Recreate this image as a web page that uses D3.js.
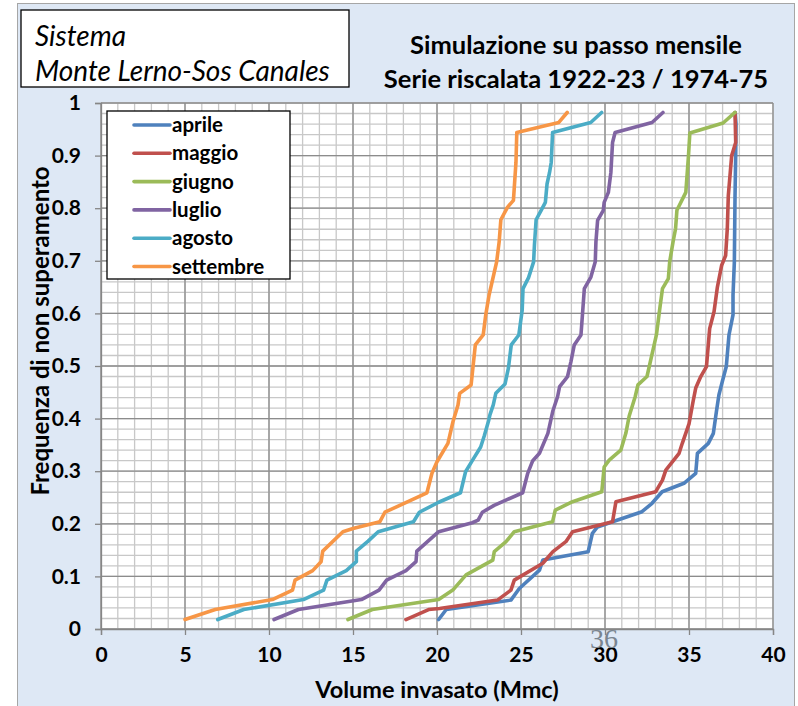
<!DOCTYPE html>
<html>
<head>
<meta charset="utf-8">
<script src="https://cdn.jsdelivr.net/npm/d3@7"></script>
<style>
  html, body { margin: 0; padding: 0; background: #ffffff; }
  svg { display: block; }
</style>
</head>
<body>
<svg id="chart" width="798" height="706"></svg>
<script>
// ---------------- DATA ----------------
const months = ["aprile", "maggio", "giugno", "luglio", "agosto", "settembre"];
const colors = ["#4F81BD", "#C0504D", "#9BBB59", "#8064A2", "#4BACC6", "#F79646"];

const xTickLabels = ["0", "5", "10", "15", "20", "25", "30", "35", "40"];
const yTickLabels = ["0", "0.1", "0.2", "0.3", "0.4", "0.5", "0.6", "0.7", "0.8", "0.9", "1"];

// [volume (Mmc), frequency of non-exceedance]
const aprile = [[20.1,0.018],[20.55,0.037],[24.4,0.055],[24.9,0.077],[26.1,0.112],[26.3,0.131],[29.0,0.147],[29.25,0.182],[29.55,0.194],[30.45,0.204],[32.2,0.223],[32.8,0.239],[33.4,0.261],[34.7,0.277],[35.4,0.296],[35.5,0.334],[36.15,0.353],[36.45,0.372],[36.63,0.413],[36.78,0.445],[36.98,0.47],[37.22,0.499],[37.38,0.559],[37.62,0.597],[37.62,0.635],[37.7,0.698],[37.74,0.824],[37.78,0.9],[37.8,0.96],[37.75,0.982]];
const maggio = [[18.15,0.018],[19.5,0.037],[20.15,0.039],[23.6,0.055],[24.4,0.074],[24.6,0.093],[26.3,0.125],[26.9,0.147],[27.67,0.166],[28.07,0.185],[30.45,0.204],[30.65,0.242],[33.02,0.261],[33.42,0.283],[33.62,0.302],[34.41,0.334],[34.6,0.353],[35.0,0.39],[35.24,0.432],[35.4,0.458],[35.7,0.48],[36.04,0.499],[36.23,0.571],[36.49,0.603],[36.69,0.65],[36.94,0.691],[37.18,0.71],[37.28,0.761],[37.34,0.824],[37.54,0.9],[37.78,0.925],[37.74,0.982]];
const giugno = [[14.7,0.018],[16.15,0.037],[20.1,0.056],[20.94,0.074],[21.73,0.103],[23.32,0.131],[23.41,0.147],[24.11,0.166],[24.6,0.185],[26.88,0.204],[27.04,0.226],[28.07,0.242],[29.81,0.261],[29.95,0.308],[30.25,0.321],[30.94,0.34],[31.24,0.372],[31.44,0.405],[31.8,0.442],[31.96,0.464],[32.5,0.48],[33.06,0.559],[33.26,0.609],[33.42,0.647],[33.77,0.666],[33.85,0.698],[34.05,0.736],[34.2,0.761],[34.28,0.796],[34.81,0.83],[34.97,0.9],[35.05,0.943],[37.03,0.962],[37.74,0.982]];
const luglio = [[10.3,0.018],[11.75,0.037],[15.5,0.056],[16.55,0.074],[17.0,0.093],[18.15,0.111],[18.75,0.128],[18.8,0.148],[20.1,0.185],[22.1,0.202],[22.45,0.207],[22.7,0.222],[23.4,0.235],[24.1,0.245],[25.1,0.259],[25.4,0.296],[25.7,0.32],[26.1,0.334],[26.6,0.372],[26.9,0.415],[27.18,0.442],[27.3,0.461],[27.77,0.48],[27.97,0.508],[28.17,0.54],[28.57,0.559],[28.67,0.603],[28.77,0.647],[29.16,0.669],[29.42,0.698],[29.46,0.736],[29.56,0.777],[29.9,0.796],[29.95,0.811],[30.2,0.83],[30.35,0.868],[30.45,0.925],[30.6,0.944],[32.8,0.963],[33.45,0.982]];
const agosto = [[6.95,0.018],[8.5,0.037],[12.05,0.056],[13.25,0.074],[13.45,0.093],[14.6,0.111],[15.2,0.128],[15.2,0.148],[15.9,0.167],[16.5,0.185],[18.6,0.204],[18.95,0.222],[20.1,0.241],[21.4,0.259],[21.7,0.299],[22.1,0.32],[22.6,0.346],[22.82,0.368],[23.08,0.397],[23.15,0.407],[23.35,0.426],[23.5,0.448],[24.05,0.466],[24.25,0.496],[24.42,0.54],[24.87,0.559],[25.07,0.606],[25.12,0.647],[25.45,0.668],[25.75,0.698],[25.8,0.73],[25.9,0.778],[26.2,0.796],[26.45,0.811],[26.55,0.846],[26.7,0.868],[26.8,0.887],[26.88,0.944],[29.15,0.963],[29.8,0.982]];
const settembre = [[5.0,0.018],[6.8,0.037],[10.2,0.056],[11.4,0.074],[11.55,0.093],[12.6,0.111],[13.1,0.128],[13.2,0.148],[14.4,0.185],[15.0,0.191],[16.6,0.204],[16.9,0.222],[19.4,0.259],[19.7,0.296],[20.0,0.318],[20.65,0.353],[20.95,0.394],[21.25,0.426],[21.35,0.448],[22.03,0.464],[22.28,0.54],[22.75,0.559],[22.9,0.597],[23.1,0.635],[23.55,0.698],[23.7,0.736],[23.8,0.778],[24.2,0.802],[24.55,0.815],[24.7,0.887],[24.75,0.944],[27.25,0.963],[27.75,0.982]];

const seriesData = [aprile, maggio, giugno, luglio, agosto, settembre];

const titleBoxLines = ["Sistema", "Monte Lerno-Sos Canales"];
const titleLines = ["Simulazione su passo mensile", "Serie riscalata 1922-23 / 1974-75"];
const xAxisTitle = "Volume invasato (Mmc)";
const yAxisTitle = "Frequenza di non superamento";
const pageNumber = "36";

// ---------------- DRAWING ----------------
const FONT = "Lato, 'Open Sans', 'DejaVu Sans', sans-serif";
const svg = d3.select("#chart");

// chart area
svg.append("rect").attr("x", 17.5).attr("y", 3.5).attr("width", 777).attr("height", 720)
  .attr("fill", "#dee8f5").attr("stroke", "#a6a6a6").attr("stroke-width", 1);

const x = d3.scaleLinear().domain([0, 40]).range([101, 773]);
const y = d3.scaleLinear().domain([0, 1]).range([629, 103]);

// plot area background
svg.append("rect").attr("x", x(0)).attr("y", y(1)).attr("width", x(40) - x(0)).attr("height", y(0) - y(1))
  .attr("fill", "#ffffff");

const grid = svg.append("g");
// minor grid
grid.selectAll("line.vminor").data(x.ticks(40)).join("line")
  .attr("x1", d => x(d)).attr("x2", d => x(d)).attr("y1", y(0)).attr("y2", y(1))
  .attr("stroke", "#c8c8c8").attr("stroke-width", 1.3);
grid.selectAll("line.hminor").data(y.ticks(50)).join("line")
  .attr("x1", x(0)).attr("x2", x(40)).attr("y1", d => y(d)).attr("y2", d => y(d))
  .attr("stroke", "#c8c8c8").attr("stroke-width", 1.3);
// major grid
grid.selectAll("line.vmajor").data(x.ticks(8)).join("line")
  .attr("x1", d => x(d)).attr("x2", d => x(d)).attr("y1", y(0)).attr("y2", y(1))
  .attr("stroke", "#8c8c8c").attr("stroke-width", 1.3);
grid.selectAll("line.hmajor").data(y.ticks(10)).join("line")
  .attr("x1", x(0)).attr("x2", x(40)).attr("y1", d => y(d)).attr("y2", d => y(d))
  .attr("stroke", "#8c8c8c").attr("stroke-width", 1.3);

// axes
const xAxis = d3.axisBottom(x).tickValues(x.ticks(8)).tickSize(6).tickPadding(12)
  .tickFormat((d, i) => xTickLabels[i]);
const gx = svg.append("g").attr("transform", `translate(0,${y(0)})`).call(xAxis);
const yAxis = d3.axisLeft(y).tickValues(y.ticks(10)).tickSize(6).tickPadding(14)
  .tickFormat((d, i) => yTickLabels[i]);
const gy = svg.append("g").attr("transform", `translate(${x(0)},0)`).call(yAxis);
[gx, gy].forEach(g => {
  g.select(".domain").attr("stroke", "#868686").attr("stroke-width", 1.3);
  g.selectAll(".tick line").attr("stroke", "#868686").attr("stroke-width", 1.3);
  g.selectAll(".tick text").attr("fill", "#000").attr("font-family", FONT)
    .attr("font-size", 21).attr("font-weight", "bold");
});

// series lines
const line = d3.line().x(d => x(d[0])).y(d => y(d[1]));
svg.append("g").selectAll("path").data(seriesData).join("path")
  .attr("d", line).attr("fill", "none")
  .attr("stroke", (d, i) => colors[i]).attr("stroke-width", 3.6)
  .attr("stroke-linejoin", "round").attr("stroke-linecap", "round");

// legend
const lg = svg.append("g");
lg.append("rect").attr("x", 107).attr("y", 111).attr("width", 183).attr("height", 168)
  .attr("fill", "#fff").attr("stroke", "#000").attr("stroke-width", 1.3);
months.forEach((m, i) => {
  const yy = 125 + i * 28.3;
  lg.append("line").attr("x1", 134).attr("x2", 170).attr("y1", yy).attr("y2", yy)
    .attr("stroke", colors[i]).attr("stroke-width", 3.6).attr("stroke-linecap", "round");
  lg.append("text").attr("x", 172).attr("y", yy).attr("dy", "0.35em")
    .attr("font-family", FONT).attr("font-size", 20.5).attr("font-weight", "bold")
    .attr("fill", "#000").text(m);
});

// title box
svg.append("rect").attr("x", 21).attr("y", 10).attr("width", 328).attr("height", 77)
  .attr("fill", "#fff").attr("stroke", "#000").attr("stroke-width", 1.3);
titleBoxLines.forEach((t, i) => {
  svg.append("text").attr("x", 35).attr("y", 46 + i * 35)
    .attr("font-family", FONT).attr("font-size", 28).attr("font-style", "italic")
    .attr("fill", "#000").text(t);
});
titleLines.forEach((t, i) => {
  svg.append("text").attr("x", 576).attr("y", 54 + i * 34).attr("text-anchor", "middle")
    .attr("font-family", FONT).attr("font-size", 25.5).attr("font-weight", "bold")
    .attr("fill", "#000").text(t);
});

// axis titles
svg.append("text").attr("x", 437).attr("y", 698).attr("text-anchor", "middle")
  .attr("font-family", FONT).attr("font-size", 23.5).attr("font-weight", "bold")
  .attr("fill", "#000").text(xAxisTitle);
svg.append("text").attr("transform", `translate(49,331) rotate(-90)`).attr("text-anchor", "middle")
  .attr("font-family", FONT).attr("font-size", 24).attr("font-weight", "bold")
  .attr("fill", "#000").text(yAxisTitle);

// page number artifact
svg.append("text").attr("x", 604).attr("y", 648).attr("text-anchor", "middle")
  .attr("font-family", "'Liberation Serif', 'DejaVu Serif', serif").attr("font-size", 28)
  .attr("fill", "#7a8590").text(pageNumber);
</script>
</body>
</html>
